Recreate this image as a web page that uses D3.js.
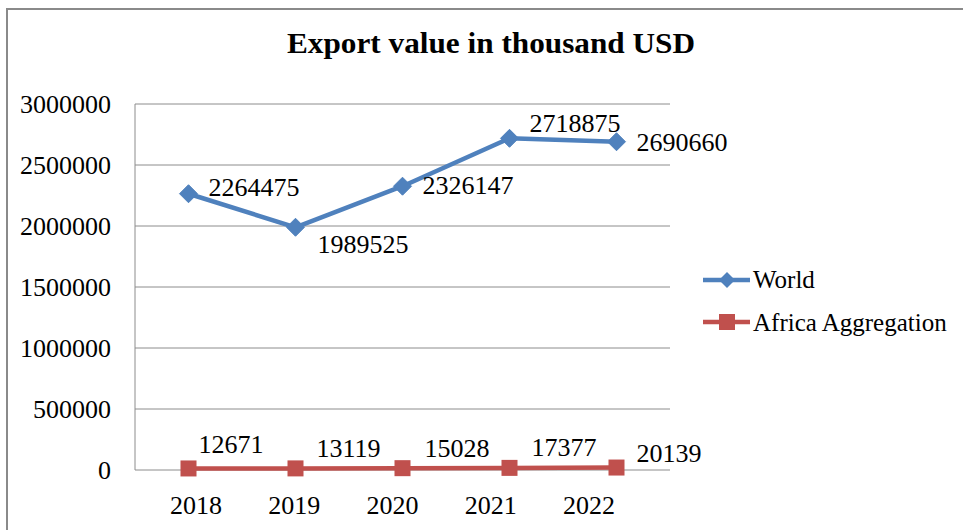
<!DOCTYPE html>
<html>
<head>
    <script src="https://cdnjs.cloudflare.com/ajax/libs/d3/7.8.5/d3.min.js"></script>
    <style>
        body { margin: 0; background: white; }
        svg text { font-family: "Liberation Serif", "Times New Roman", serif; fill: #000; }
    </style>
</head>
<body>
    <svg id="chart" width="963" height="530"></svg>

    <script>
        // data
        const years = ["2018", "2019", "2020", "2021", "2022"];
        const worldValues = [2264475, 1989525, 2326147, 2718875, 2690660];
        const africaValues = [12671, 13119, 15028, 17377, 20139];
        const yTicks = [0, 500000, 1000000, 1500000, 2000000, 2500000, 3000000];

        // label nudges, [dx, dy] from the point
        const worldLabelOffsets = [[20, 2], [22, 26], [20, 8], [20, -6], [20, 9]];
        const africaLabelOffsets = [[10, -15], [21, -11], [22, -11], [22, -12], [20, -6]];

        const svg = d3.select("#chart");
        const plotLeft = 135, plotRight = 670, plotTop = 104, plotBottom = 470;

        // outer border (cut off on right and bottom like the source)
        svg.append("path")
            .attr("d", "M7,530 L7,9 L963,9")
            .attr("fill", "none")
            .attr("stroke", "#8a8a8a")
            .attr("stroke-width", 2);

        svg.append("text")
            .attr("x", 491)
            .attr("y", 53)
            .attr("text-anchor", "middle")
            .attr("textLength", 408)
            .attr("lengthAdjust", "spacingAndGlyphs")
            .style("font-size", "30px")
            .style("font-weight", "bold")
            .text("Export value in thousand USD");

        const x = d3.scalePoint()
            .domain(years)
            .range([plotLeft, plotRight])
            .padding(0.5);

        const y = d3.scaleLinear()
            .domain([0, 3000000])
            .range([plotBottom, plotTop]);

        // category labels sit a bit off the points in the source
        const xLabel = d3.scalePoint()
            .domain(years)
            .range([196, 589]);

        // gridlines
        svg.append("g")
            .selectAll("line")
            .data(yTicks)
            .enter().append("line")
            .attr("x1", plotLeft)
            .attr("x2", plotRight)
            .attr("y1", d => y(d))
            .attr("y2", d => y(d))
            .attr("stroke", "#8c8c8c")
            .attr("stroke-width", 1);

        // left axis line
        svg.append("line")
            .attr("x1", plotLeft).attr("x2", plotLeft)
            .attr("y1", plotTop).attr("y2", plotBottom)
            .attr("stroke", "#8c8c8c");

        // y tick labels
        svg.append("g")
            .selectAll("text")
            .data(yTicks)
            .enter().append("text")
            .attr("x", 111)
            .attr("y", d => y(d) + 9)
            .attr("text-anchor", "end")
            .style("font-size", "26px")
            .text(d => d);

        // x tick labels
        svg.append("g")
            .selectAll("text")
            .data(years)
            .enter().append("text")
            .attr("x", d => xLabel(d))
            .attr("y", 514)
            .attr("text-anchor", "middle")
            .style("font-size", "26px")
            .text(d => d);

        const line = d3.line()
            .x((d, i) => x(years[i]))
            .y(d => y(d));

        const blue = "#4f81bd", red = "#c0504d";

        // World
        svg.append("path")
            .datum(worldValues)
            .attr("d", line)
            .attr("fill", "none")
            .attr("stroke", blue)
            .attr("stroke-width", 4.5)
            .attr("stroke-linejoin", "round");

        svg.append("g")
            .selectAll("path")
            .data(worldValues)
            .enter().append("path")
            .attr("d", "M0,-9 L9,0 L0,9 L-9,0 Z")
            .attr("transform", (d, i) => `translate(${x(years[i])},${y(d)})`)
            .attr("fill", blue)
            .attr("stroke", blue);

        // Africa
        svg.append("path")
            .datum(africaValues)
            .attr("d", line)
            .attr("fill", "none")
            .attr("stroke", red)
            .attr("stroke-width", 4.5);

        svg.append("g")
            .selectAll("rect")
            .data(africaValues)
            .enter().append("rect")
            .attr("x", (d, i) => x(years[i]) - 8)
            .attr("y", d => y(d) - 8)
            .attr("width", 16)
            .attr("height", 16)
            .attr("fill", red);

        // data labels
        svg.append("g")
            .selectAll("text")
            .data(worldValues)
            .enter().append("text")
            .attr("x", (d, i) => x(years[i]) + worldLabelOffsets[i][0])
            .attr("y", (d, i) => y(d) + worldLabelOffsets[i][1])
            .style("font-size", "26px")
            .text(d => d);

        svg.append("g")
            .selectAll("text")
            .data(africaValues)
            .enter().append("text")
            .attr("x", (d, i) => x(years[i]) + africaLabelOffsets[i][0])
            .attr("y", (d, i) => y(d) + africaLabelOffsets[i][1])
            .style("font-size", "26px")
            .text(d => d);

        // legend
        const legend = svg.append("g");
        legend.append("line")
            .attr("x1", 703).attr("x2", 750)
            .attr("y1", 280).attr("y2", 280)
            .attr("stroke", blue).attr("stroke-width", 4.5);
        legend.append("path")
            .attr("d", "M0,-8 L8,0 L0,8 L-8,0 Z")
            .attr("transform", "translate(727,280)")
            .attr("fill", blue);
        legend.append("text")
            .attr("x", 753).attr("y", 288)
            .style("font-size", "25px")
            .text("World");

        legend.append("line")
            .attr("x1", 703).attr("x2", 750)
            .attr("y1", 322).attr("y2", 322)
            .attr("stroke", red).attr("stroke-width", 4.5);
        legend.append("rect")
            .attr("x", 719).attr("y", 314)
            .attr("width", 16).attr("height", 16)
            .attr("fill", red);
        legend.append("text")
            .attr("x", 753).attr("y", 331)
            .style("font-size", "25px")
            .text("Africa Aggregation");
    </script>
</body>
</html>
